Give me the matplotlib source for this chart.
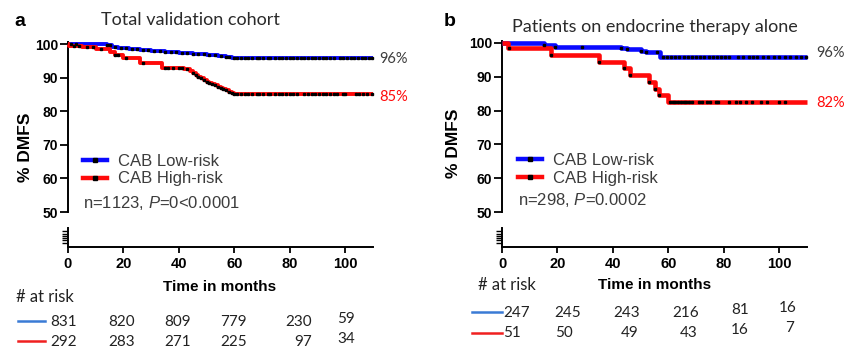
import numpy as np
import matplotlib
matplotlib.use("Agg")
import matplotlib.pyplot as plt
from matplotlib.lines import Line2D

# ---------------- data ----------------
follow_up_end = 110

# Panel a: total validation cohort
a_low_t = [0, 14, 16, 18, 22, 26, 30, 35, 40, 45, 50, 54, 57, 59]
a_low_s = [100, 99.6, 99.1, 98.8, 98.5, 98.3, 98.0, 97.7, 97.4, 97.0, 96.7, 96.4, 96.0, 95.7]
a_high_t = [0, 0.5, 5, 10, 15, 17, 20, 26, 34, 37, 42, 44, 45, 46, 47, 48, 49, 50, 51, 52,
            53, 54, 55, 56, 57, 58, 59, 60]
a_high_s = [100, 99.3, 99.0, 98.5, 97.5, 96.7, 95.7, 94.4, 93.0, 92.8, 92.5, 92.0, 91.3, 90.8,
            90.3, 89.8, 89.3, 88.8, 88.4, 88.0, 87.7, 87.3, 87.0, 86.6, 86.2, 85.8, 85.5, 85.2]
a_low_cens = [1, 3, 14, 15, 17, 19, 21, 23, 25, 27, 29, 31, 33, 35, 37, 39, 41, 43, 45, 47, 49,
              51, 53, 55, 57, 58, 60, 61, 62.5, 64, 65, 66.5, 68, 69, 70.5, 72, 73, 74.5, 76, 77,
              78.5, 80, 81, 82.5, 84, 85, 86.5, 88, 89, 90.5, 92, 93, 94.5, 96, 98, 99, 100.5,
              102, 103, 104.5, 106, 107, 108.5, 109.5]
a_high_cens = [2, 4, 7, 9, 12, 17, 18, 21, 27, 35, 36, 38, 40, 41, 43, 45, 46, 47, 48, 49, 50,
               51, 52, 53, 54, 55, 56, 57, 58, 59, 60, 61, 62.5, 64, 65, 66.5, 68, 69, 70.5, 72,
               73, 74.5, 76, 77, 78.5, 80, 81, 82.5, 85, 86.5, 88, 89, 90.5, 92, 93, 94.5, 96,
               97, 99, 100, 104, 105, 106.5, 108, 109.5]
a_title = "Total validation cohort"
a_stats = "n=1123, $\\mathit{P}$=0<0.0001"
a_final = ["96%", "85%"]
a_risk_low = [831, 820, 809, 779, 230, 59]
a_risk_high = [292, 283, 271, 225, 97, 34]

# Panel b: patients on endocrine therapy alone
b_low_t = [0, 15, 19, 43, 45, 50, 52, 57]
b_low_s = [100, 99.3, 98.9, 98.5, 98.1, 97.6, 97.2, 96.0]
b_high_t = [0, 2, 17.5, 35, 44, 46, 53, 55, 56.5, 59.7]
b_high_s = [100, 98.4, 96.4, 94.5, 92.5, 90.5, 88.5, 86.5, 84.6, 82.5]
b_low_cens = [15, 19, 29, 43, 45, 50, 52, 56, 58, 59.5, 61, 62.5, 64, 65.5, 67, 68.5, 70, 71.5,
              73, 74.5, 76, 77.5, 79, 80.5, 82, 85, 87, 89, 90.5, 92, 94, 96, 98, 100, 102, 104,
              106, 108, 109.5]
b_high_cens = [2.5, 17.5, 35, 44, 46, 53, 55, 56.5, 60.5, 61.5, 62.5, 63.5, 64.5, 65.5, 66.5,
               67.5, 68.5, 71, 72, 74, 75, 77, 78, 82, 84.5, 86, 88, 90, 93.5, 95.5, 100, 102]
b_title = "Patients on endocrine therapy alone"
b_stats = "n=298, $\\mathit{P}$=0.0002"
b_final = ["96%", "82%"]
b_risk_low = [247, 245, 243, 216, 81, 16]
b_risk_high = [51, 50, 49, 43, 16, 7]

labels = ["CAB Low-risk", "CAB High-risk"]
x_ticks = [0, 20, 40, 60, 80, 100]
y_ticks = [50, 60, 70, 80, 90, 100]

# ---------------- style ----------------
W, H = 856, 350
BLUE, RED = "#0a0aff", "#ff0a0a"
RISK_BLUE, RISK_RED = "#3a7bd5", "#f02020"
GRAY = "#3c3c3c"
ARIAL = "Liberation Sans"
CALIBRI = "Lato"

plt.rcParams["font.family"] = [ARIAL, "DejaVu Sans"]
plt.rcParams["mathtext.fontset"] = "custom"
plt.rcParams["mathtext.rm"] = ARIAL
plt.rcParams["mathtext.it"] = ARIAL + ":italic"

fig = plt.figure(figsize=(W / 100, H / 100), dpi=100)


def fx(x):
    return x / W


def fy(y):
    return 1 - y / H


def step_value(ts, ss, t):
    idx = np.searchsorted(np.asarray(ts), np.asarray(t), side="right") - 1
    return np.asarray(ss)[idx]


def panel(left, top100, letter, letter_xy, title, title_xy, low_t, low_s, high_t, high_s,
          low_c, high_c, lw, stats, final, final_xy, ylab_xy, xlab_xy, leg_xy, stats_xy,
          risk_lab_xy, risk_line_x, risk_low, risk_high, risk_low_pos, risk_high_pos,
          risk_rows_y, risk_align):
    width = 305
    scale = (212 - top100) / 50.0
    top = top100 - 0.5 * scale
    ax = fig.add_axes([fx(left), fy(212), width / W, (212 - top) / H])
    axl = fig.add_axes([fx(left), fy(247), width / W, 19 / H])

    for a in (ax, axl):
        a.set_xlim(0, follow_up_end)
        for sp in ("top", "right"):
            a.spines[sp].set_visible(False)
        a.spines["left"].set_linewidth(1.4)
        a.patch.set_alpha(0)
    ax.spines["bottom"].set_visible(False)
    axl.spines["bottom"].set_linewidth(1.4)

    ax.set_ylim(50, 100.5)
    ax.set_yticks(y_ticks)
    ax.set_yticklabels([str(v) for v in y_ticks], fontweight="bold", fontsize=10)
    ax.tick_params(axis="y", length=6, width=1.3, pad=1)
    ax.set_xticks([])

    axl.set_ylim(0, 8.5)
    axl.set_yticks([2, 3, 4, 5, 6, 7])
    axl.set_yticklabels([])
    axl.tick_params(axis="y", length=4, width=1.0)
    axl.set_xticks(x_ticks)
    axl.set_xticklabels([str(v) for v in x_ticks], fontweight="bold", fontsize=10.5)
    axl.tick_params(axis="x", length=4, width=1.3, pad=3)

    for ts, ss, cc, col in ((low_t, low_s, low_c, BLUE), (high_t, high_s, high_c, RED)):
        xs = list(ts) + [follow_up_end]
        ys = list(ss) + [ss[-1]]
        ax.step(xs, ys, where="post", color=col, lw=lw, clip_on=False, zorder=3,
                solid_capstyle="butt")
        ax.plot(cc, step_value(ts, ss, cc), ls="none", marker="s", ms=2.0, color="k",
                clip_on=False, zorder=4)

    fig.text(fx(letter_xy[0]), fy(letter_xy[1]), letter, fontsize=14, fontweight="bold",
             ha="center", va="center")
    fig.text(fx(title_xy[0]), fy(title_xy[1]), title, family=CALIBRI, fontsize=13,
             color="#2a2a2a", ha="center", va="center")
    fig.text(fx(final_xy[0]), fy(final_xy[1]), final[0], family=CALIBRI, fontsize=10.5,
             color=GRAY, ha="left", va="center")
    fig.text(fx(final_xy[0]), fy(final_xy[2]), final[1], family=CALIBRI, fontsize=10.5,
             color=RED, ha="left", va="center")
    fig.text(fx(ylab_xy[0]), fy(ylab_xy[1]), "% DMFS", fontsize=12.5, fontweight="bold",
             rotation=90, ha="center", va="center")
    fig.text(fx(xlab_xy[0]), fy(xlab_xy[1]), "Time in months", fontsize=11,
             fontweight="bold", ha="center", va="center")

    handles = [Line2D([], [], color=BLUE, lw=3.2, marker="s", ms=2.5, mfc="k", mec="k"),
               Line2D([], [], color=RED, lw=3.2, marker="s", ms=2.5, mfc="k", mec="k")]
    leg = ax.legend(handles, labels, loc="upper left", bbox_to_anchor=(fx(leg_xy[0]), fy(leg_xy[1])),
                    bbox_transform=fig.transFigure, frameon=False, fontsize=12,
                    handlelength=1.45, handletextpad=0.65, labelspacing=0.15,
                    borderpad=0, borderaxespad=0, numpoints=1)
    for t in leg.get_texts():
        t.set_color(GRAY)
    fig.text(fx(stats_xy[0]), fy(stats_xy[1]), stats, fontsize=12, color=GRAY,
             ha="left", va="center")

    # at-risk table
    fig.text(fx(risk_lab_xy[0]), fy(risk_lab_xy[1]), "# at risk", family=CALIBRI,
             fontsize=12, color="#222222", ha="left", va="center")
    for row_y, col in zip(risk_rows_y, (RISK_BLUE, RISK_RED)):
        fig.add_artist(Line2D([fx(risk_line_x[0]), fx(risk_line_x[1])], [fy(row_y), fy(row_y)],
                              color=col, lw=1.8, transform=fig.transFigure))
    for vals, pos in ((risk_low, risk_low_pos), (risk_high, risk_high_pos)):
        for v, (px, py) in zip(vals, pos):
            fig.text(fx(px), fy(py), str(v), family=CALIBRI, fontsize=11,
                     color="#222222", ha=risk_align, va="center")
    return ax


panel(68, 44, "a", (20, 21), a_title, (190, 20), a_low_t, a_low_s, a_high_t, a_high_s,
      a_low_cens, a_high_cens, 2.8, a_stats, a_final, (379, 59, 97), (25, 147), (220, 287),
      (83, 154), (83, 203), (16, 297), (18, 45), a_risk_low, a_risk_high,
      [(77, 322), (135, 322), (191, 322), (247, 322), (312, 322), (355, 319)],
      [(77, 342), (135, 342), (191, 342), (247, 342), (312, 342), (355, 339)],
      (321, 341), "right")

panel(502, 43, "b", (450, 21), b_title, (655, 27), b_low_t, b_low_s, b_high_t, b_high_s,
      b_low_cens, b_high_cens, 3.3, b_stats, b_final, (816, 53, 103), (454, 143), (655, 285),
      (518, 153), (518, 200), (478, 285), (472, 502), b_risk_low, b_risk_high,
      [(516.5, 313), (567.5, 313), (626.5, 313), (685.5, 313), (740, 310), (787.5, 308)],
      [(512, 333), (563.5, 333), (630, 333), (688.5, 333), (739.5, 330), (790, 328)],
      (312, 333), "center")

fig.savefig("out.png", dpi=100)
